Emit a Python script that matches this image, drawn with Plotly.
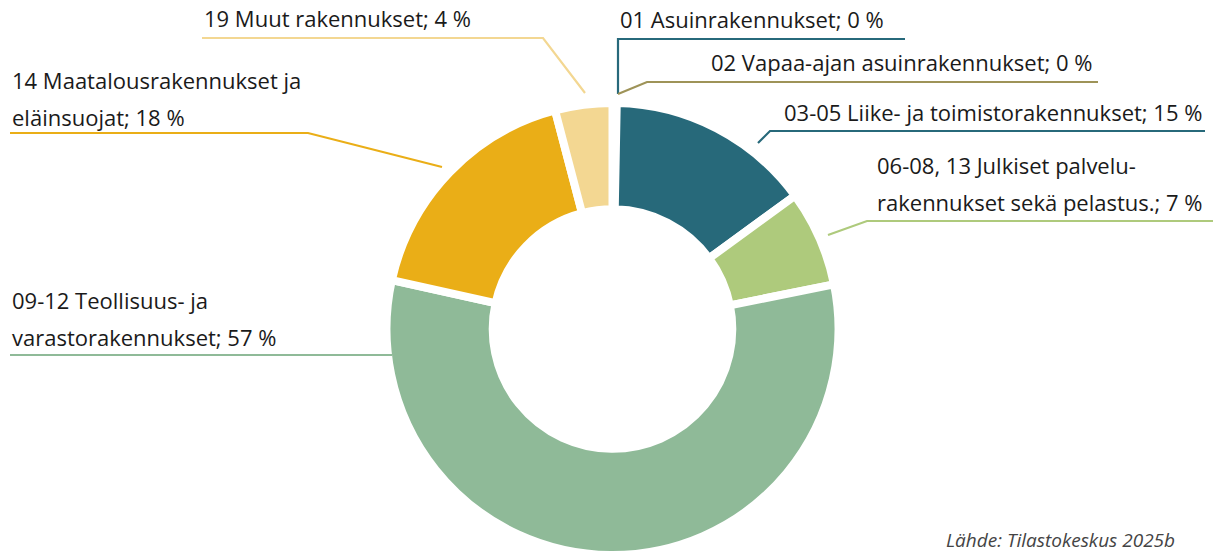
import plotly.graph_objects as go

# ---- data ----
categories = [
    "01 Asuinrakennukset",
    "02 Vapaa-ajan asuinrakennukset",
    "03-05 Liike- ja toimistorakennukset",
    "06-08, 13 Julkiset palvelu-<br>rakennukset sekä pelastus.",
    "09-12 Teollisuus- ja<br>varastorakennukset",
    "14 Maatalousrakennukset ja<br>eläinsuojat",
    "19 Muut rakennukset",
]
values = [0.2, 0.1, 14.7, 6.9, 56.8, 17.5, 4.1]
pct_labels = ["0 %", "0 %", "15 %", "7 %", "57 %", "18 %", "4 %"]
source_text = "Lähde: Tilastokeskus 2025b"

# ---- styles ----
colors = ["#27697B", "#9E9358", "#27697A", "#AECA7C", "#8FBA98", "#EAAE17", "#F3D792"]
W, H = 1215, 556
FONT = "Open Sans"
FS = 22
LINE_GAP = 37

# label placement (pixel coords): anchor x, xanchor, first-line center y, leader polyline
label_layout = [
    (618, "left", 19, [(905, 39), (618, 39), (618, 94)]),
    (1094, "right", 62, [(1098, 82), (647, 82), (618, 94)]),
    (1204, "right", 112, [(1205, 131), (770, 131), (758, 143)]),
    (875, "left", 165, [(1213, 221), (867, 221), (828, 235)]),
    (10, "left", 300, [(10, 355), (392, 355)]),
    (10, "left", 80, [(10, 133), (308, 133), (442, 167)]),
    (202, "left", 18, [(202, 38), (543, 38), (585, 93)]),
]

def px(x):
    return x / W

def py(y):
    return 1 - y / H

cx, cy, R = 612.5, 329, 226

fig = go.Figure(
    go.Pie(
        labels=categories,
        values=values,
        sort=False,
        direction="clockwise",
        rotation=0,
        hole=0.53,
        textinfo="none",
        hoverinfo="label+percent",
        marker=dict(colors=colors, line=dict(color="white", width=8)),
        domain=dict(x=[px(cx - R), px(cx + R)], y=[py(cy + R), py(cy - R)]),
        showlegend=False,
    )
)

annotations = []
shapes = []
for cat, pct, col, (ax, xa, ay, pts) in zip(categories, pct_labels, colors, label_layout):
    lines = (cat + "; " + pct).split("<br>")
    for i, ln in enumerate(lines):
        annotations.append(
            dict(
                x=px(ax), y=py(ay + i * LINE_GAP), xref="paper", yref="paper",
                text=ln, showarrow=False, xanchor=xa, yanchor="middle",
                font=dict(family=FONT, size=FS, color="#1a1a1a"),
            )
        )
    path = "M " + " L ".join(f"{px(x)},{py(y)}" for x, y in pts)
    shapes.append(
        dict(type="path", path=path, xref="paper", yref="paper",
             line=dict(color=col, width=2.2))
    )

annotations.append(
    dict(
        x=px(1177), y=py(555), xref="paper", yref="paper",
        text="<i>" + source_text + "</i>", showarrow=False,
        xanchor="right", yanchor="bottom",
        font=dict(family=FONT, size=19, color="#444444"),
    )
)

fig.update_layout(
    width=W, height=H,
    margin=dict(l=0, r=0, t=0, b=0),
    paper_bgcolor="white", plot_bgcolor="white",
    annotations=annotations, shapes=shapes,
)

fig.write_html(
    "out.html",
    config={"displayModeBar": False},
    post_script="document.body.style.margin='0';",
)
